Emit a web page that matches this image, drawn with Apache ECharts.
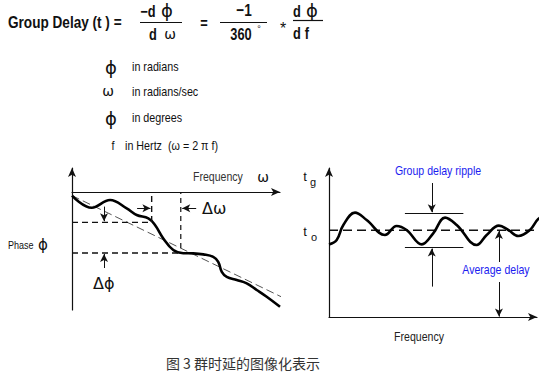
<!DOCTYPE html>
<html><head><meta charset="utf-8">
<script src="https://cdn.jsdelivr.net/npm/echarts@6/dist/echarts.min.js"></script>
<style>html,body{margin:0;padding:0;background:#fff}#c{width:551px;height:372px}</style>
</head><body><div id="c"></div>
<script>
// ---- Left panel: phase vs frequency ----
const phaseFreq   = [0, 0.95, 1.83, 2.63, 3.11, 3.67, 3.99, 4.39, 4.87, 5.35, 5.83, 6.31, 6.79, 7.03, 7.2, 7.44, 7.92, 8.4, 8.88, 9.36, 10.0];
const phaseValues = [-0.18, -0.79, -0.4, -0.82, -1.15, -1.32, -1.65, -2.32, -2.9, -3.06, -3.07, -3.12, -3.24, -3.49, -3.99, -4.24, -4.4, -4.57, -4.9, -5.24, -5.74];
const linearPhaseFreq = [0, 10.38];
const linearPhaseValues = [-0.18, -5.4];
const phaseMarkFreq = [3.83, 5.23];     // the two frequencies of the Δω interval
const phaseMarkValues = [-1.52, -3.05]; // the two phases of the Δφ interval

// ---- Right panel: group delay vs frequency ----
const delayFreq   = [0, 0.37, 0.69, 1.25, 1.81, 2.69, 3.25, 3.73, 4.46, 5.01, 5.58, 6.14, 7.1, 7.58, 8.17, 8.62, 9.1, 9.66, 10.06, 10.47];
const delayValues = [3.63, 3.85, 4.6, 5.22, 4.85, 4.1, 4.55, 4.35, 3.63, 4.18, 4.97, 4.6, 3.6, 4.1, 4.57, 4.35, 4.05, 4.35, 4.9, 5.13];
const averageDelay = 4.335;
const rippleTop = 5.19, rippleBottom = 3.47;
const rippleFrom = 3.65, rippleTo = 6.46, rippleArrowAt = 4.94;
const averageArrowAt = 8.17;

const SANS = "'Liberation Sans',Arial,sans-serif";
const SYM = "'DejaVu Sans',sans-serif";

const chart = echarts.init(document.getElementById('c'), null, {renderer: 'svg'});

function pairs(xs, ys){ return xs.map((x,i)=>[x, ys[i]]); }
function seg(a,b){ return [{coord:a},{coord:b}]; }

const axisBase = {
  type: 'value', axisTick:{show:false}, axisLabel:{show:false}, splitLine:{show:false},
  axisLine:{show:true, onZero:true, symbol:['none','arrow'], symbolSize:[6,9], lineStyle:{color:'#111', width:1.2}}
};

const arrowML = (data) => ({
  silent:true, symbol:['none','arrow'], symbolSize:[6,8], label:{show:false},
  lineStyle:{color:'#111', width:1, type:'solid'}, data
});

function txt(x, y, text, font, opts){
  opts = opts || {};
  return {type:'text', x, y, scaleX: opts.sx || 1, silent:true,
    style:{text, font, fill: opts.fill || '#111', textAlign: opts.align || 'left', textVerticalAlign:'middle'}};
}
const N = 0.86; // condensed look of the original typeface

const option = {
  animation:false,
  backgroundColor:'#fff',
  grid:[
    {left:72, top:168, width:208, height:142},
    {left:329, top:168, width:208, height:149}
  ],
  xAxis:[
    Object.assign({}, axisBase, {gridIndex:0, min:0, max:10}),
    Object.assign({}, axisBase, {gridIndex:1, min:0, max:10})
  ],
  yAxis:[
    Object.assign({}, axisBase, {gridIndex:0, min:-5.9, max:1.2}),
    Object.assign({}, axisBase, {gridIndex:1, min:0, max:7.45})
  ],
  series:[
    {type:'line', xAxisIndex:0, yAxisIndex:0, clip:false, symbol:'none',
     data: pairs(linearPhaseFreq, linearPhaseValues),
     lineStyle:{color:'#555', width:1, type:[8,4]}},
    {type:'line', xAxisIndex:0, yAxisIndex:0, clip:false, symbol:'none', smooth:0.4,
     data: pairs(phaseFreq, phaseValues),
     lineStyle:{color:'#000', width:2.6},
     markLine: arrowML([
       seg([3.13,-0.815],[3.77,-0.815]),
       seg([5.97,-0.815],[5.3,-0.815]),
       seg([1.54,-0.73],[1.54,-1.46]),
       seg([1.54,-3.8],[1.54,-3.1])
     ])},
    {type:'line', xAxisIndex:0, yAxisIndex:0, clip:false, symbol:'none',
     data: [[0, phaseMarkValues[0]], [phaseMarkFreq[0], phaseMarkValues[0]], [phaseMarkFreq[0], 0]],
     lineStyle:{color:'#111', width:1.4, type:[6,4]}},
    {type:'line', xAxisIndex:0, yAxisIndex:0, clip:false, symbol:'none',
     data: [[0, phaseMarkValues[1]], [phaseMarkFreq[1], phaseMarkValues[1]]],
     lineStyle:{color:'#111', width:1.4, type:[6,4]}},
    {type:'line', xAxisIndex:0, yAxisIndex:0, clip:false, symbol:'none',
     data: [[phaseMarkFreq[1], -2.8], [phaseMarkFreq[1], 0]],
     lineStyle:{color:'#111', width:1.2, type:[5,4]}},

    {type:'line', xAxisIndex:1, yAxisIndex:1, clip:false, symbol:'none',
     data: [[0, averageDelay], [10.53, averageDelay]],
     lineStyle:{color:'#111', width:1.4, type:[9,5]}},
    {type:'line', xAxisIndex:1, yAxisIndex:1, clip:false, symbol:'none', smooth:0.4,
     data: pairs(delayFreq, delayValues),
     lineStyle:{color:'#000', width:2.6},
     markLine:{silent:true, symbol:['none','none'], label:{show:false},
       lineStyle:{color:'#111', width:1, type:'solid'},
       data:[ seg([rippleFrom, rippleTop],[rippleTo, rippleTop]), seg([rippleFrom, rippleBottom],[rippleTo, rippleBottom]) ]}},
    {type:'line', xAxisIndex:1, yAxisIndex:1, clip:false, symbol:'none', data:[],
     markLine: arrowML([
       seg([rippleArrowAt, 6.7],[rippleArrowAt, 5.24]),
       seg([rippleArrowAt, 1.52],[rippleArrowAt, 3.42]),
       seg([averageArrowAt, 2.75],[averageArrowAt, 4.3]),
       seg([averageArrowAt, 1.75],[averageArrowAt, 0.02])
     ])}
  ],
  graphic:[
    // formula
    txt(8, 22, 'Group Delay (t ) =', 'bold 17px ' + SANS, {sx:0.8}),
    txt(148, 11, '−d', 'bold 16px ' + SANS, {align:'center', sx:0.8}),
    txt(167, 10, 'ϕ', '18px ' + SYM, {align:'center'}),
    {type:'line', silent:true, shape:{x1:140, y1:22.5, x2:182, y2:22.5}, style:{stroke:'#111', lineWidth:1.2}},
    txt(153, 34, 'd', 'bold 16px ' + SANS, {align:'center', sx:0.8}),
    txt(170, 34, 'ω', '14px ' + SYM, {align:'center'}),
    txt(204, 23, '=', 'bold 16px ' + SANS, {align:'center', sx:0.8}),
    txt(244, 10, '−1', 'bold 17px ' + SANS, {align:'center', sx:0.8}),
    {type:'line', silent:true, shape:{x1:220, y1:22.5, x2:267, y2:22.5}, style:{stroke:'#111', lineWidth:1.2}},
    txt(241, 34, '360', 'bold 16px ' + SANS, {align:'center', sx:0.8}),
    txt(259, 29, '°', '9px ' + SANS, {align:'center'}),
    txt(283, 28, '*', '16px ' + SANS, {align:'center'}),
    txt(297, 11, 'd', 'bold 16px ' + SANS, {align:'center', sx:0.8}),
    txt(312, 10, 'ϕ', '18px ' + SYM, {align:'center'}),
    {type:'line', silent:true, shape:{x1:293, y1:20.5, x2:323, y2:20.5}, style:{stroke:'#111', lineWidth:1.2}},
    txt(297, 33, 'd', 'bold 16px ' + SANS, {align:'center', sx:0.8}),
    txt(307, 33, 'f', 'bold 16px ' + SANS, {align:'center', sx:0.8}),
    // legend of symbols
    txt(111, 67, 'ϕ', '18px ' + SYM, {align:'center'}),
    txt(132, 66, 'in radians', '12.5px ' + SANS, {sx:N}),
    txt(108, 91, 'ω', '14px ' + SYM, {align:'center'}),
    txt(132, 91, 'in radians/sec', '12.5px ' + SANS, {sx:N}),
    txt(111, 118, 'ϕ', '18px ' + SYM, {align:'center'}),
    txt(132, 117, 'in degrees', '12.5px ' + SANS, {sx:N}),
    txt(113, 145.5, 'f', '12.5px ' + SANS, {align:'center', sx:N}),
    txt(125, 145.5, 'in Hertz  (ω = 2 π f)', '12.5px ' + SANS, {sx:N}),
    // left panel labels
    txt(193, 177, 'Frequency', '12px ' + SANS, {fill:'#333', sx:0.88}),
    txt(263, 177, 'ω', '14px ' + SYM, {align:'center'}),
    txt(202, 208, 'Δω', '16px ' + SYM),
    txt(93, 283, 'Δϕ', '16px ' + SYM),
    txt(8, 245.5, 'Phase', '10.5px ' + SANS, {sx:0.86}),
    txt(43, 245, 'ϕ', '15px ' + SYM, {align:'center'}),
    // right panel labels
    txt(305, 176, 't', '13px ' + SANS, {align:'center'}),
    txt(313, 182, 'g', '11px ' + SANS, {align:'center'}),
    txt(305, 231, 't', '13px ' + SANS, {align:'center'}),
    txt(314, 237, 'o', '11px ' + SANS, {align:'center'}),
    txt(438, 171, 'Group delay ripple', '12px ' + SANS, {align:'center', fill:'#1c1cf0', sx:0.88}),
    txt(496, 270, 'Average delay', '12px ' + SANS, {align:'center', fill:'#1c1cf0', sx:0.88}),
    txt(419, 337, 'Frequency', '12px ' + SANS, {align:'center', fill:'#222', sx:0.88}),
    // caption
    txt(243, 363, '图 3 群时延的图像化表示', "14px 'Noto Sans CJK SC',sans-serif", {align:'center', fill:'#333'})
  ]
};
chart.setOption(option);
</script>
</body></html>
